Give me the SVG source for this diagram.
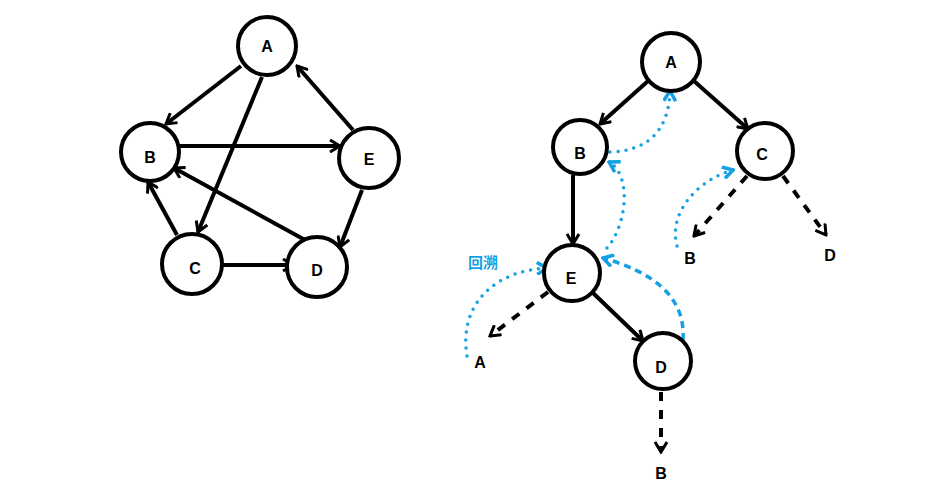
<svg xmlns="http://www.w3.org/2000/svg" width="929" height="497" viewBox="0 0 929 497">
<style>
.node circle{fill:#fff;stroke:#000;stroke-width:4}
.node text,.lbl{font-family:"Liberation Sans",Arial,sans-serif;font-weight:bold;font-size:16px;fill:#000;text-anchor:middle;dominant-baseline:central}
.e{stroke:#000;stroke-width:4;fill:none;marker-end:url(#ah)}
.d{stroke:#000;stroke-width:4;fill:none;stroke-dasharray:9 9;marker-end:url(#ah)}
.b{stroke:#14a0e4;stroke-width:3.5;fill:none;stroke-linecap:round;stroke-dasharray:0 8;marker-end:url(#bh)}
.bd{stroke:#14a0e4;stroke-width:3.5;fill:none;stroke-dasharray:7 5;marker-end:url(#bh)}
.cn{font-family:"Noto Sans CJK SC","Liberation Sans",sans-serif;font-weight:bold;font-size:15px;fill:#14a0e4}
</style>
<defs>
<marker id="ah" viewBox="0 0 14 14" refX="12" refY="7" markerWidth="14" markerHeight="14" markerUnits="userSpaceOnUse" orient="auto">
<path d="M2,1 L12,7 L2,13" fill="none" stroke="#000" stroke-width="3"/>
</marker>
<marker id="bh" viewBox="0 0 14 14" refX="12" refY="7" markerWidth="14" markerHeight="14" markerUnits="userSpaceOnUse" orient="auto">
<path d="M2,1 L12,7 L2,13" fill="none" stroke="#14a0e4" stroke-width="3.5"/>
</marker>
</defs>
<rect width="929" height="497" fill="#fff"/>
<g id="connectors">
<line class="e" x1="241" y1="66" x2="166" y2="124"/>
<line class="e" x1="262" y1="77" x2="198" y2="232"/>
<line class="e" x1="353" y1="130" x2="297" y2="66"/>
<line class="e" x1="180" y1="146" x2="340" y2="146"/>
<line class="e" x1="305" y1="240" x2="174" y2="168"/>
<line class="e" x1="177" y1="235" x2="148" y2="182"/>
<line class="e" x1="223" y1="265" x2="293" y2="265"/>
<line class="e" x1="362" y1="190" x2="340" y2="247"/>
<line class="e" x1="648" y1="81" x2="600" y2="124"/>
<line class="e" x1="694" y1="81" x2="748" y2="129"/>
<line class="e" x1="573" y1="175" x2="573" y2="244"/>
<line class="e" x1="592" y1="292" x2="643" y2="341"/>
<line class="d" x1="747" y1="176" x2="694" y2="236"/>
<line class="d" x1="783" y1="176" x2="826" y2="235"/>
<line class="d" x1="548" y1="292" x2="490" y2="336"/>
<line class="d" x1="661" y1="392" x2="661" y2="452"/>
<path class="b" d="M610 152 Q668 150 670 91"/>
<path class="b" d="M607 248 C627 225 632 175 609 162"/>
<path class="b" d="M677 246 C668 212 698 180 733 170"/>
<path class="b" d="M467 356 C458 300 500 270 547 268"/>
<path class="bd" d="M683 340 C686 296 652 272 603 258"/>
</g>
<g id="L-A" class="node"><circle cx="267" cy="46" r="29"/><text x="267" y="46">A</text></g>
<g id="L-B" class="node"><circle cx="150" cy="152" r="29"/><text x="150" y="157">B</text></g>
<g id="L-E" class="node"><circle cx="369" cy="158" r="30"/><text x="369" y="159">E</text></g>
<g id="L-C" class="node"><circle cx="192" cy="264" r="30"/><text x="195" y="268">C</text></g>
<g id="L-D" class="node"><circle cx="317" cy="267" r="30"/><text x="317" y="270">D</text></g>
<g id="R-A" class="node"><circle cx="671" cy="62" r="29"/><text x="671" y="62">A</text></g>
<g id="R-B" class="node"><circle cx="580" cy="147" r="27"/><text x="580" y="153">B</text></g>
<g id="R-C" class="node"><circle cx="765" cy="151" r="28"/><text x="762" y="154">C</text></g>
<g id="R-E" class="node"><circle cx="572" cy="273" r="28"/><text x="571" y="278">E</text></g>
<g id="R-D" class="node"><circle cx="663" cy="361" r="28"/><text x="661" y="367">D</text></g>
<g id="labels">
<text class="lbl" x="690" y="258">B</text>
<text class="lbl" x="830" y="255">D</text>
<text class="lbl" x="480" y="362">A</text>
<text class="lbl" x="661" y="473">B</text>
<text class="cn" x="468" y="268">回溯</text>
</g>
</svg>
